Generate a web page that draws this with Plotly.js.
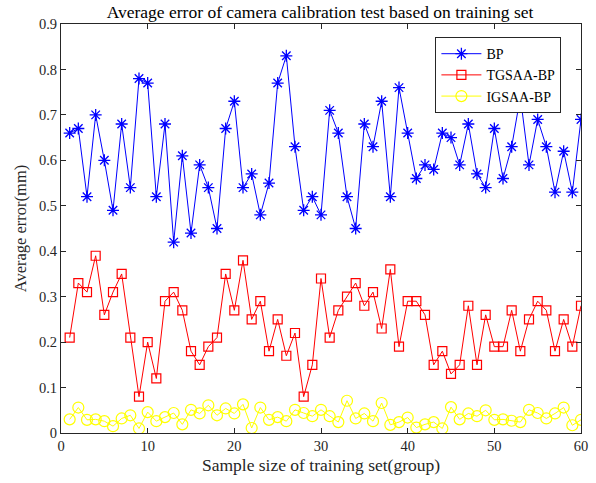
<!DOCTYPE html>
<html>
<head>
<meta charset="utf-8">
<script src="https://cdn.plot.ly/plotly-3.0.1.min.js"></script>
<style>html,body{margin:0;padding:0;background:#fff;}#chart{width:596px;height:483px;}</style>
</head>
<body>
<div id="chart"></div>
<script>
const sampleSize = Array.from({length: 60}, (_, i) => i + 1);
const bp = [0.66,0.67,0.52,0.70,0.60,0.49,0.68,0.54,0.78,0.77,0.52,0.68,0.42,0.61,0.44,0.59,0.54,0.45,0.67,0.73,0.54,0.57,0.48,0.55,0.77,0.83,0.63,0.49,0.52,0.48,0.71,0.66,0.52,0.45,0.68,0.63,0.73,0.52,0.76,0.66,0.56,0.59,0.58,0.66,0.65,0.59,0.68,0.57,0.54,0.67,0.56,0.63,0.74,0.59,0.69,0.63,0.53,0.62,0.53,0.69];
const tgsaa = [0.21,0.33,0.31,0.39,0.26,0.31,0.35,0.21,0.08,0.20,0.12,0.29,0.31,0.27,0.18,0.15,0.19,0.21,0.35,0.27,0.38,0.25,0.29,0.18,0.25,0.17,0.22,0.08,0.15,0.34,0.21,0.27,0.30,0.33,0.28,0.31,0.23,0.36,0.19,0.29,0.29,0.26,0.15,0.18,0.13,0.15,0.28,0.15,0.26,0.19,0.19,0.27,0.18,0.25,0.29,0.27,0.18,0.25,0.19,0.28];
const igsaa = [0.030,0.056,0.029,0.030,0.026,0.015,0.032,0.039,0.010,0.046,0.026,0.035,0.044,0.019,0.051,0.043,0.061,0.039,0.054,0.043,0.063,0.011,0.056,0.029,0.035,0.026,0.051,0.044,0.037,0.051,0.037,0.024,0.071,0.032,0.043,0.026,0.066,0.018,0.024,0.034,0.012,0.019,0.024,0.010,0.057,0.030,0.043,0.037,0.050,0.029,0.030,0.027,0.024,0.051,0.044,0.032,0.043,0.056,0.017,0.029];
const seriesNames = ['BP', 'TGSAA-BP', 'IGSAA-BP'];
const xTicks = [0,10,20,30,40,50,60];
const yTicks = [0,0.1,0.2,0.3,0.4,0.5,0.6,0.7,0.8,0.9];
const yTickText = ['0','0.1','0.2','0.3','0.4','0.5','0.6','0.7','0.8','0.9'];

const font = 'Liberation Serif, Times New Roman, serif';
const traces = [
  {x: sampleSize, y: bp, name: seriesNames[0], type: 'scatter', mode: 'lines+markers',
   line: {color: '#0000ff', width: 1},
   marker: {symbol: 'asterisk-open', size: 10, color: '#0000ff', line: {color: '#0000ff', width: 1.3}}},
  {x: sampleSize, y: tgsaa, name: seriesNames[1], type: 'scatter', mode: 'lines+markers',
   line: {color: '#ff0000', width: 1},
   marker: {symbol: 'square-open', size: 9, color: '#ff0000', line: {color: '#ff0000', width: 1.2}}},
  {x: sampleSize, y: igsaa, name: seriesNames[2], type: 'scatter', mode: 'lines+markers',
   line: {color: '#ffff00', width: 1},
   marker: {symbol: 'circle-open', size: 11, color: '#ffff00', line: {color: '#ffff00', width: 1.2}}}
];
const axisCommon = {
  showgrid: false, zeroline: false, showline: true, linecolor: '#262626', linewidth: 1,
  mirror: 'allticks', ticks: 'inside', ticklen: 5, tickcolor: '#262626', tickwidth: 1,
  tickfont: {family: font, size: 14.5, color: '#262626'}
};
const layout = {
  width: 596, height: 483,
  margin: {l: 61, r: 15, t: 24, b: 50},
  paper_bgcolor: '#ffffff', plot_bgcolor: '#ffffff',
  showlegend: true,
  title: {text: 'Average error of camera calibration test based on training set',
          font: {family: font, size: 17.5, color: '#000'}, x: 0.537, xanchor: 'center', y: 0.975, yanchor: 'middle'},
  xaxis: Object.assign({}, axisCommon, {range: [0, 60], tickvals: xTicks,
    title: {text: 'Sample size of training set(group)', font: {family: font, size: 17.5, color: '#262626'}, standoff: 5}}),
  yaxis: Object.assign({}, axisCommon, {range: [0, 0.9], tickvals: yTicks, ticktext: yTickText,
    title: {text: 'Average error(mm)', font: {family: font, size: 16.5, color: '#262626'}, standoff: 8}}),
  legend: {x: 0.72, y: 0.968, xanchor: 'left', yanchor: 'top', bgcolor: '#ffffff',
           bordercolor: '#262626', borderwidth: 1, font: {family: font, size: 14, color: '#000'},
           tracegroupgap: 0, itemwidth: 40}
};
Plotly.newPlot('chart', traces, layout, {displayModeBar: false, staticPlot: true});
</script>
</body>
</html>
